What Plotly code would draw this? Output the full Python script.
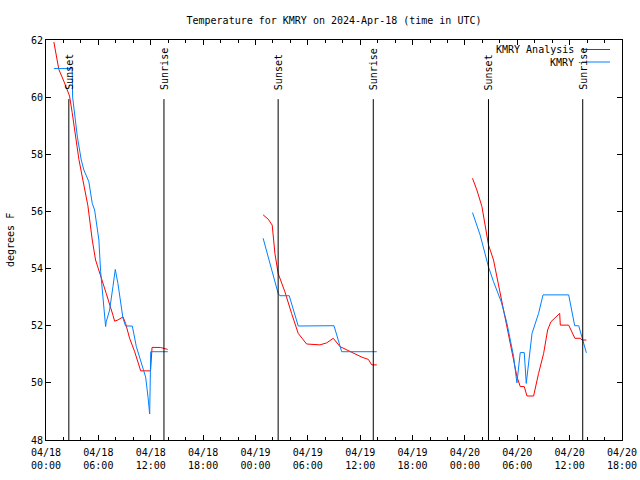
import pandas as pd
import plotly.graph_objects as go

# ---- data (hours after 2024-04-18 00:00 UTC, degrees F) ----
base = pd.Timestamp("2024-04-18 00:00")

red_h1 = [0.9, 1.47, 2.04, 2.43, 2.7, 3.0, 3.77, 4.8, 5.3, 5.68, 6.26, 6.9, 7.67, 7.86, 8.24, 8.82, 9.12,
          9.58, 10.16, 10.85, 11.98, 12.15, 13.1, 13.94]
red_v1 = [61.93, 60.97, 60.56, 60.27, 60.04, 59.46, 57.82, 56.2, 55.0, 54.3, 53.77, 53.13, 52.37, 52.16, 52.2,
          52.31, 52.08, 51.56, 51.09, 50.42, 50.42, 51.24, 51.24, 51.17]
red_h2 = [24.88, 25.46, 25.92, 26.23, 26.6, 27.37, 28.14, 28.9, 29.86, 31.39, 32.16, 32.92, 33.68, 34.45,
          35.4, 36.18, 36.94, 37.32, 37.9]
red_v2 = [55.88, 55.73, 55.52, 54.53, 53.83, 53.19, 52.43, 51.73, 51.36, 51.33, 51.4, 51.56, 51.27, 51.15,
          51.03, 50.9, 50.82, 50.63, 50.63]
red_h3 = [48.87, 49.37, 49.95, 50.33, 50.7, 51.28, 51.85, 52.43, 53.0, 53.58, 53.96, 54.34, 54.8, 55.11,
          55.87, 56.44, 57.02, 57.48, 57.86, 58.86, 58.93, 59.89, 60.6, 61.23, 61.42, 61.92]
red_v3 = [57.16, 56.75, 56.17, 55.47, 54.83, 54.3, 53.43, 52.49, 51.62, 50.8, 50.22, 49.87, 49.87, 49.54,
          49.54, 50.33, 51.03, 51.85, 52.14, 52.43, 52.02, 52.02, 51.56, 51.56, 51.5, 51.5]

blue_h1 = [0.9, 3.0, 3.05, 3.6, 4.04, 4.34, 4.91, 5.3, 5.57, 6.06, 6.26, 6.52, 6.83, 6.9, 7.29, 7.67, 7.94,
           8.24, 8.44, 8.82, 9.12, 9.89, 10.35, 11.42, 11.69, 11.88, 12.0, 13.95]
blue_v1 = [61.0, 61.0, 60.0, 58.6, 57.8, 57.45, 57.04, 56.28, 56.05, 55.0, 53.89, 53.13, 51.97, 52.14, 52.55,
           53.37, 53.97, 53.48, 53.02, 52.26, 51.99, 51.99, 51.27, 50.2, 49.5, 48.91, 51.09, 51.09]
blue_h2 = [24.88, 26.6, 26.8, 27.87, 28.9, 33.0, 33.88, 37.9]
blue_v2 = [55.06, 53.13, 53.05, 53.05, 51.99, 52.0, 51.09, 51.09]
blue_h3 = [48.87, 49.75, 50.7, 51.28, 52.16, 52.82, 53.58, 53.96, 54.34, 54.8, 55.03, 55.69, 56.44, 56.95,
           59.89, 60.58, 61.04, 61.54, 61.92]
blue_v3 = [55.96, 55.17, 54.06, 53.54, 52.84, 52.08, 50.92, 50.0, 51.06, 51.06, 49.98, 51.73, 52.43, 53.08,
           53.08, 52.0, 52.0, 51.44, 51.05]

sun_times = ["2024-04-18 02:37", "2024-04-18 13:31", "2024-04-19 02:36",
             "2024-04-19 13:30", "2024-04-20 02:42", "2024-04-20 13:30"]
sun_labels = ["Sunset", "Sunrise", "Sunset", "Sunrise", "Sunset", "Sunrise"]

title_text = "Temperature for KMRY on 2024-Apr-18 (time in UTC)"
series_names = ["KMRY Analysis", "KMRY"]
x_range = ["2024-04-18 00:00", "2024-04-20 18:00"]
y_range = [48, 62]

RED = "#ff0000"
BLUE = "#0080ff"
FONT = "DejaVu Sans Mono"


def join(segs_h, segs_v):
    xs, ys = [], []
    for h, v in zip(segs_h, segs_v):
        xs += list(base + pd.to_timedelta(h, unit="h")) + [None]
        ys += list(v) + [None]
    return xs, ys


rx, ry = join([red_h1, red_h2, red_h3], [red_v1, red_v2, red_v3])
bx, by = join([blue_h1, blue_h2, blue_h3], [blue_v1, blue_v2, blue_v3])

fig = go.Figure()
fig.add_trace(go.Scatter(x=rx, y=ry, mode="lines", line=dict(color=RED, width=1),
                         name=series_names[0], showlegend=False, connectgaps=False))
fig.add_trace(go.Scatter(x=bx, y=by, mode="lines", line=dict(color=BLUE, width=1),
                         name=series_names[1], showlegend=False, connectgaps=False))

for t, lab in zip(sun_times, sun_labels):
    fig.add_shape(type="line", xref="x", yref="y", x0=t, x1=t, y0=48, y1=59.93,
                  line=dict(color="black", width=1))
    fig.add_annotation(x=t, y=60.18, xref="x", yref="y", text=lab, textangle=-90,
                       showarrow=False, xanchor="center", yanchor="bottom",
                       font=dict(family=FONT, size=10, color="black"))

# manual gnuplot-style key (text left of sample)
L, W, T, H = 46, 576, 40, 400
def px(x): return (x - L) / W
def py(y): return (T + H - y) / H

for name, col, yy in [(series_names[0], RED, 49.5), (series_names[1], BLUE, 62.0)]:
    fig.add_annotation(x=px(576), y=py(yy), xref="paper", yref="paper", text=name,
                       showarrow=False, xanchor="right", yanchor="middle",
                       font=dict(family=FONT, size=10, color="black"))
    fig.add_shape(type="line", xref="paper", yref="paper", x0=px(582), x1=px(610),
                  y0=py(yy), y1=py(yy), line=dict(color=col, width=1))

fig.add_annotation(x=px(10), y=0.5, xref="paper", yref="paper", text="degrees F",
                   textangle=-90, showarrow=False, xanchor="center", yanchor="middle",
                   font=dict(family=FONT, size=10, color="black"))

fig.update_layout(
    width=640, height=480,
    margin=dict(l=L, r=640 - L - W, t=T, b=480 - T - H, autoexpand=False),
    paper_bgcolor="white", plot_bgcolor="white",
    font=dict(family=FONT, size=10, color="black"),
    title=dict(text=title_text, x=0.5, xref="paper", xanchor="center",
               y=1 - 20 / 480, yref="container", yanchor="middle",
               font=dict(family=FONT, size=10, color="black")),
    showlegend=False,
)
fig.update_xaxes(
    type="date", range=x_range, dtick=6 * 3600 * 1000, tick0="2024-04-18 00:00",
    tickformat="%m/%d<br>%H:%M", ticks="inside", ticklen=5, tickcolor="black",
    showline=True, linecolor="black", linewidth=1, mirror="ticks", showgrid=False,
    zeroline=False, automargin=False, ticklabelstandoff=3,
    minor=dict(dtick=2 * 3600 * 1000, ticks="inside", ticklen=3, tickcolor="black", showgrid=False),
    tickfont=dict(family=FONT, size=10, color="black"),
)
fig.update_yaxes(
    range=y_range, dtick=2, ticks="inside", ticklen=5, tickcolor="black",
    showline=True, linecolor="black", linewidth=1, mirror="ticks", showgrid=False,
    zeroline=False, automargin=False, tickfont=dict(family=FONT, size=10, color="black"),
)

fig.write_html("out.html")
